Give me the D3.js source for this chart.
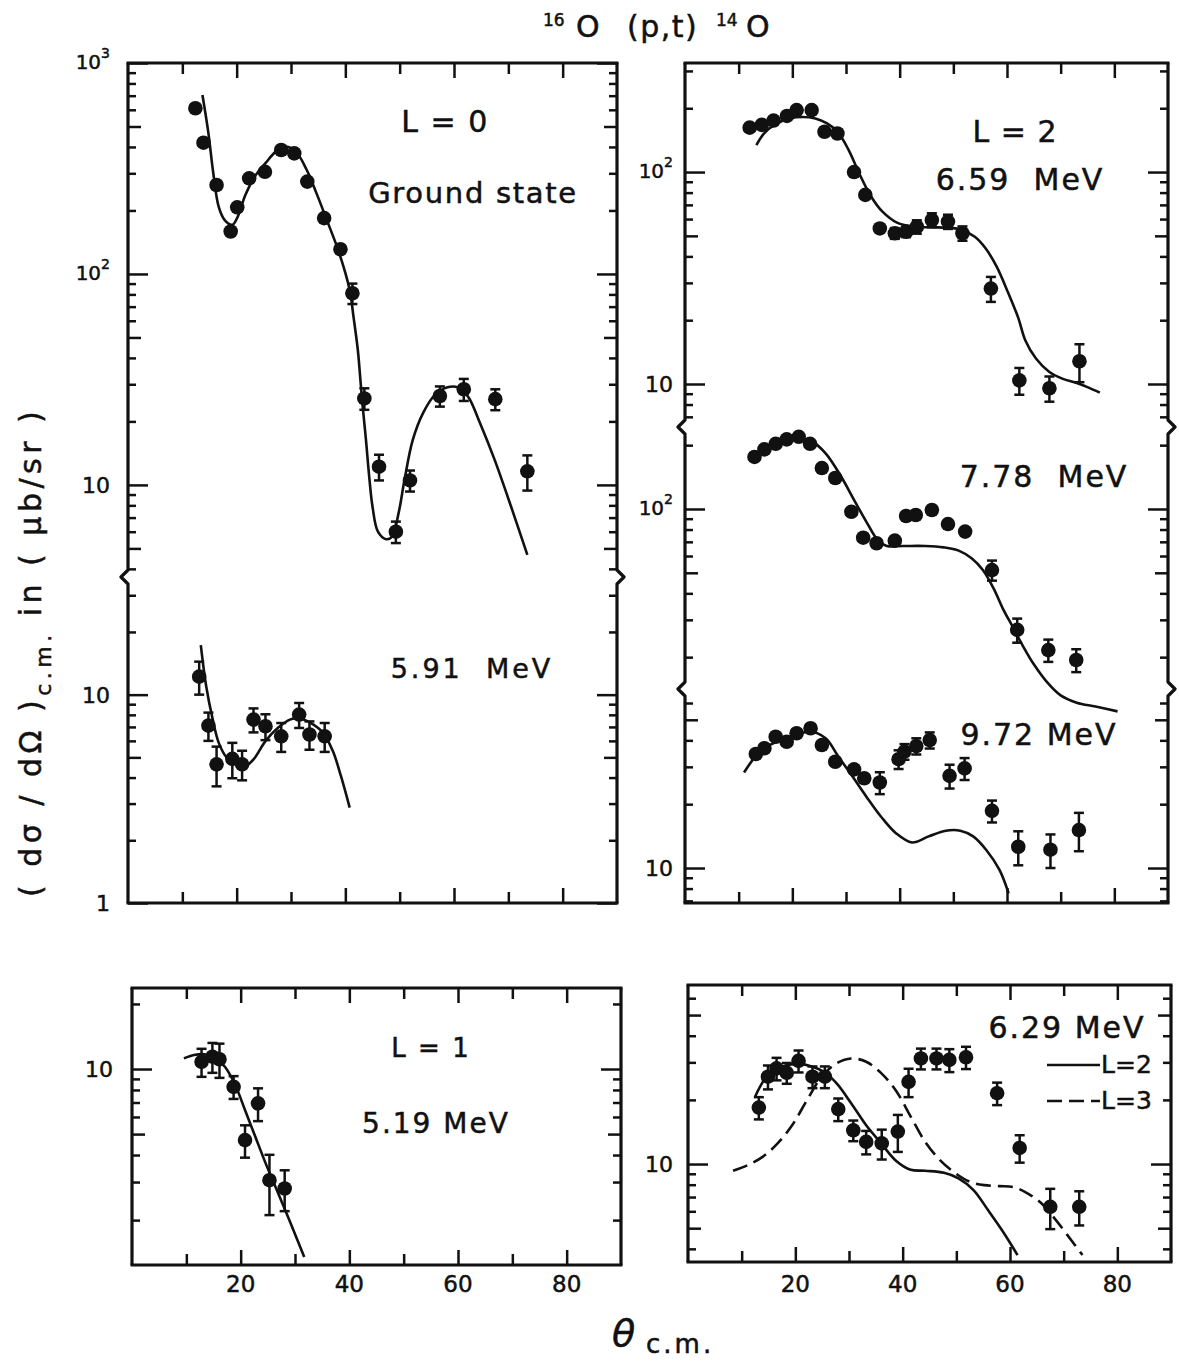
<!DOCTYPE html>
<html>
<head>
<meta charset="utf-8">
<script src="https://cdn.jsdelivr.net/npm/d3@7/dist/d3.min.js"></script>
<style>
  body { margin: 0; background: #fff; }
  svg text { font-family: "DejaVu Sans", sans-serif; fill: #111; stroke: #111; stroke-width: 0.5px; }
</style>
</head>
<body>
<svg id="chart" width="1179" height="1362"></svg>
<script>
// values: theta c.m. (deg) and d(sigma)/d(Omega) (ub/sr)

// L = 0, ground state
const gsTheta = [12.4, 13.9, 16.3, 18.9, 20.1, 22.3, 25.2, 28.2, 30.6, 33.0, 36.1, 39.1, 41.3, 43.5, 46.2, 49.3, 51.9, 57.4, 61.8, 67.6, 73.5];
const gsSigma = [610, 419, 264, 159, 207, 284, 305, 387, 373, 274, 184, 131, 81, 25.7, 12.2, 6.0, 10.5, 26.4, 28.4, 25.5, 11.6];
const gsErr   = [0, 0, 0, 0, 0, 0, 0, 0, 0, 0, 0, 0, 9, 3, 1.7, 0.7, 1.2, 2.9, 3.4, 2.9, 2.2];
const gsFitTheta = [13.7, 14.8, 15.7, 16.7, 17.8, 19.2, 20.2, 21.6, 23.5, 25.3, 27.2, 29.1, 30.9, 32.9, 34.7, 36.6, 38.9, 40.8, 41.5, 42.3, 42.8, 43.2, 43.8, 44.4, 45.0, 46.0, 47.5, 48.6, 49.8, 50.9, 52.4, 54.3, 56.5, 58.8, 60.7, 62.6, 64.8, 67.5, 70.5, 73.5];
const gsFitSigma = [705, 465, 300, 208, 180, 171, 187, 237, 294, 335, 380, 401, 380, 311, 241, 180, 125, 84, 62.8, 43.6, 30.9, 23.5, 16.3, 10.9, 7.9, 6.0, 5.53, 5.69, 7.35, 10.6, 16.3, 21.9, 26.7, 29.0, 29.0, 26.2, 19.6, 13.1, 7.9, 4.66];

// 5.91 MeV
const s591Theta = [13.1, 14.8, 16.3, 19.2, 21.0, 23.1, 25.3, 28.2, 31.5, 33.4, 36.2];
const s591Sigma = [12.2, 7.1, 4.63, 4.92, 4.63, 7.59, 7.05, 6.31, 8.02, 6.44, 6.31];
const s591Err   = [2.2, 1.1, 1.0, 0.95, 0.75, 1.0, 1.0, 1.0, 1.1, 1.0, 1.0];
const s591FitTheta = [13.4, 14.4, 15.6, 16.7, 18.2, 20.1, 21.6, 23.1, 25.3, 27.6, 29.8, 31.3, 33.6, 35.9, 37.7, 39.2, 40.8];
const s591FitSigma = [17.3, 10.95, 7.59, 5.87, 4.98, 4.63, 4.54, 4.89, 5.98, 6.93, 7.59, 7.73, 7.32, 6.56, 5.36, 4.06, 2.87];

// L = 1, 5.19 MeV
const s519Theta = [12.8, 14.8, 16.1, 18.7, 20.8, 23.2, 25.3, 28.1];
const s519Sigma = [10.8, 11.4, 11.1, 8.27, 4.69, 6.94, 3.06, 2.8];
const s519Err   = [1.6, 1.8, 2.0, 1.0, 0.8, 1.2, 0.95, 0.6];
const s519FitTheta = [9.55, 11.4, 13.3, 15.2, 17.1, 19.0, 20.8, 22.7, 24.6, 26.9, 29.1, 31.7];
const s519FitSigma = [11.2, 11.6, 11.7, 11.3, 10.25, 8.44, 6.46, 4.86, 3.66, 2.66, 1.96, 1.35];

// L = 2, 6.59 MeV
const s659Theta = [12.05, 14.3, 16.5, 19.0, 20.8, 23.6, 26.0, 28.4, 31.5, 33.6, 36.3, 39.1, 41.2, 43.2, 46.0, 49.0, 51.7, 57.0, 62.3, 67.9, 73.5];
const s659Sigma = [162, 167, 175, 184, 196, 196, 155, 152, 100, 78, 54.2, 51.4, 52.3, 55.2, 59.4, 58.4, 51.4, 28.2, 10.4, 9.55, 12.8];
const s659Err   = [0, 0, 0, 0, 0, 0, 0, 0, 0, 0, 0, 3, 3, 4, 4.5, 4.5, 4, 3.8, 1.5, 1.3, 2.6];
const s659FitTheta = [13.3, 14.7, 16.8, 19.5, 21.9, 24.3, 26.4, 28.4, 30.5, 32.6, 34.7, 36.8, 39.5, 42.9, 47.1, 51.2, 54.0, 56.0, 58.1, 60.2, 62.1, 63.4, 65.4, 67.9, 70.3, 73.0, 75.1, 77.3];
const s659FitSigma = [134, 152, 168, 179, 182, 179, 170, 155, 127, 96.8, 76.5, 65, 57.7, 55.2, 54.8, 53.7, 49.5, 43.7, 35.7, 27, 20.5, 16.1, 13.2, 11.4, 10.6, 10.1, 9.64, 9.1];

// 7.78 MeV
const s778Theta = [12.95, 14.8, 16.9, 18.95, 21.2, 23.3, 25.5, 28.0, 31.0, 33.2, 35.7, 39.1, 41.2, 43.0, 46.0, 49.0, 52.2, 57.2, 61.9, 67.7, 72.9];
const s778Sigma = [176, 191, 203, 213, 219, 203, 156, 140, 97, 73.2, 68.9, 70.9, 92.7, 93.7, 98.9, 84.9, 78.2, 51.5, 26.9, 21.6, 19.4];
const s778Err   = [0, 0, 0, 0, 0, 0, 0, 0, 0, 0, 0, 0, 0, 0, 0, 0, 0, 5.6, 3.5, 2.6, 2.4];
const s778FitTheta = [12.95, 17.1, 21.3, 23.8, 26.2, 28.9, 31.7, 33.8, 35.9, 37.6, 40.7, 44.8, 48.2, 51.0, 53.4, 55.5, 57.5, 59.2, 61.0, 63.0, 65.0, 67.5, 70.0, 73.0, 76.5, 80.6];
const s778FitSigma = [176, 200, 215, 207, 183, 145, 108, 87, 71.4, 66.9, 66.9, 66.9, 65.9, 63.6, 58.5, 51.5, 42.2, 34, 28, 22.5, 18.5, 15.2, 13.2, 12.2, 11.7, 11.1];

// 9.72 MeV
const s972Theta = [13.2, 14.8, 16.9, 18.95, 20.8, 23.4, 25.5, 28.0, 31.5, 33.4, 36.3, 39.8, 40.9, 43.1, 45.6, 49.3, 52.1, 57.2, 62.1, 68.1, 73.4];
const s972Sigma = [34.5, 36.7, 41.6, 39.4, 43.2, 45.6, 38.0, 31.7, 29.2, 26.5, 25.3, 32.6, 35.4, 37.6, 40.1, 27.2, 29.5, 18.6, 12.6, 12.2, 15.1];
const s972Err   = [0, 0, 0, 0, 0, 0, 0, 0, 0, 0, 3, 3.3, 3, 3.3, 3.5, 3.5, 3.5, 2.2, 2.3, 2.2, 3.1];
const s972FitTheta = [11.0, 13.1, 15.2, 17.9, 20.7, 23.4, 26.2, 28.6, 31.0, 33.8, 36.5, 39.3, 42.3, 45.4, 48.6, 51.3, 53.7, 56.1, 58.6, 60.3];
const s972FitSigma = [28.2, 33.5, 37.3, 40.1, 42.4, 44.0, 40.9, 33.5, 27.5, 21.7, 17.5, 14.6, 13.2, 14.1, 15.0, 15.0, 14.1, 12.2, 9.8, 7.6];

// 6.29 MeV, with L = 2 and L = 3 fits
const s629Theta = [13.2, 14.9, 16.5, 18.4, 20.6, 23.2, 25.5, 28.0, 30.8, 33.2, 36.1, 39.1, 41.1, 43.4, 46.3, 48.7, 51.8, 57.6, 61.8, 67.5, 72.9];
const s629Sigma = [18.4, 25.7, 28.1, 26.8, 30.5, 25.7, 25.7, 18.1, 14.4, 12.7, 12.5, 14.2, 24.3, 31.3, 31.3, 30.8, 31.7, 21.5, 11.9, 6.3, 6.3];
const s629Err   = [2.2, 3.3, 3.4, 3, 3.6, 3, 3, 2.2, 1.6, 1.6, 2, 2.8, 3.7, 3.5, 3.5, 3.8, 3.8, 2.6, 1.75, 1.35, 1.15];
const s629L2Theta = [12.5, 14.2, 16.0, 18.0, 20.5, 22.9, 25.3, 27.7, 30.4, 33.2, 36.0, 38.7, 41.5, 44.2, 47.7, 50.4, 53.2, 55.9, 58.7, 61.4];
const s629L2Sigma = [20.7, 24.8, 27.4, 28.9, 29.5, 28.8, 27.1, 23.9, 19.3, 15.2, 12.5, 10.4, 9.4, 9.3, 9.1, 8.57, 7.55, 6.08, 4.81, 3.74];
const s629L3Theta = [8.4, 11.2, 13.9, 16.7, 19.4, 22.2, 24.9, 27.7, 30.4, 33.2, 36.0, 38.7, 41.5, 44.2, 47.0, 49.7, 52.5, 55.2, 58.0, 60.8, 63.5, 65.9, 68.3, 70.7, 73.5];
const s629L3Sigma = [9.3, 9.9, 10.8, 12.5, 15.2, 20.0, 25.7, 29.7, 31.3, 30.2, 26.7, 22.2, 16.7, 12.7, 10.4, 9.1, 8.26, 7.96, 7.88, 7.78, 7.23, 6.53, 5.56, 4.64, 3.74];

// axis ticks and labels
const thetaDomain = [0, 90];
const thetaTicks = [10, 20, 30, 40, 50, 60, 70, 80];
const thetaLabels = [20, 40, 60, 80];

const tlTickVal  = [1000, 100, 10, 10, 1];
const tlTickSeg  = [0, 0, 0, 1, 1];
const tlTickBase = ['10', '10', '10', '10', '1'];
const tlTickSup  = ['3', '2', '', '', ''];

const trTickVal  = [100, 10, 100, 10];
const trTickSeg  = [0, 0, 1, 2];
const trTickBase = ['10', '10', '10', '10'];
const trTickSup  = ['2', '', '2', ''];

const blTickVal = [10], blTickSeg = [0], blTickBase = ['10'], blTickSup = [''];
const brTickVal = [10], brTickSeg = [0], brTickBase = ['10'], brTickSup = [''];

// ---------------- layout ----------------
const ink = '#111';
const svg = d3.select('#chart');
svg.append('rect').attr('width', 1179).attr('height', 1362).attr('fill', '#fff');

const panels = {
  tl: { left: 128, right: 617, labelGap: 18,
        segs: [{ domain: [1000, 3.62], range: [63, 578] }, { domain: [36.3, 1], range: [578, 903] }],
        ticks: [tlTickVal, tlTickSeg, tlTickBase, tlTickSup], xLabels: false },
  tr: { left: 685, right: 1168, labelGap: 12,
        segs: [{ domain: [327, 6.2], range: [63, 428] }, { domain: [241, 14.0], range: [428, 690] }, { domain: [69.1, 6.84], range: [690, 903] }],
        ticks: [trTickVal, trTickSeg, trTickBase, trTickSup], xLabels: false },
  bl: { left: 132, right: 621, labelGap: 19,
        segs: [{ domain: [23.7, 1.24], range: [988, 1265] }],
        ticks: [blTickVal, blTickSeg, blTickBase, blTickSup], xLabels: true },
  br: { left: 688, right: 1171, labelGap: 15,
        segs: [{ domain: [69.2, 3.47], range: [985, 1262] }],
        ticks: [brTickVal, brTickSeg, brTickBase, brTickSup], xLabels: true }
};

Object.values(panels).forEach(p => {
  p.x = d3.scaleLinear().domain(thetaDomain).range([p.left, p.right]);
  p.ys = p.segs.map(s => d3.scaleLog().domain(s.domain).range(s.range));
  p.top = p.segs[0].range[0];
  p.bottom = p.segs[p.segs.length - 1].range[1];
});

function mantissa(v) {
  return Math.round(v / Math.pow(10, Math.floor(Math.log10(v) + 1e-9)));
}

function drawPanel(p) {
  const g = svg.append('g');
  const breaks = p.segs.slice(1).map(s => s.range[0]);

  // frame with the axis-break notches
  g.append('line').attr('x1', p.left - 1.5).attr('x2', p.right + 1.5).attr('y1', p.top).attr('y2', p.top)
    .attr('stroke', ink).attr('stroke-width', 3.2);
  g.append('line').attr('x1', p.left - 1.5).attr('x2', p.right + 1.5).attr('y1', p.bottom).attr('y2', p.bottom)
    .attr('stroke', ink).attr('stroke-width', 3.2);
  [[p.left, -1], [p.right, 1]].forEach(([xx, dir]) => {
    const path = d3.path();
    path.moveTo(xx, p.top);
    breaks.forEach(b => {
      path.lineTo(xx, b - 8);
      path.lineTo(xx + dir * 7, b - 1);
      path.lineTo(xx, b + 6);
    });
    path.lineTo(xx, p.bottom);
    g.append('path').attr('d', path.toString()).attr('fill', 'none')
      .attr('stroke', ink).attr('stroke-width', 3.2).attr('stroke-linejoin', 'round');
  });

  // theta ticks, top and bottom
  [[15, thetaTicks.filter(t => t % 20 === 0)], [11, thetaTicks.filter(t => t % 20 !== 0)]].forEach(([len, vals]) => {
    g.append('g').attr('transform', `translate(0,${p.bottom})`)
      .call(d3.axisBottom(p.x).tickValues(vals).tickSize(-len).tickFormat(''))
      .call(a => a.select('.domain').remove());
    g.append('g').attr('transform', `translate(0,${p.top})`)
      .call(d3.axisTop(p.x).tickValues(vals).tickSize(-len).tickFormat(''))
      .call(a => a.select('.domain').remove());
  });

  // log ticks, left and right, per segment
  p.ys.forEach((y, i) => {
    const [r0, r1] = p.segs[i].range;
    const pad0 = i > 0 ? 6 : -1, pad1 = i < p.ys.length - 1 ? 6 : -1;
    const vals = y.ticks().filter(v => y(v) >= r0 + pad0 && y(v) <= r1 - pad1);
    [[20, vals.filter(v => mantissa(v) === 1)],
     [13, vals.filter(v => mantissa(v) === 5)],
     [8, vals.filter(v => mantissa(v) !== 1 && mantissa(v) !== 5)]].forEach(([len, tv]) => {
      g.append('g').attr('transform', `translate(${p.left},0)`)
        .call(d3.axisLeft(y).tickValues(tv).tickSize(-len).tickFormat(''))
        .call(a => a.select('.domain').remove());
      g.append('g').attr('transform', `translate(${p.right},0)`)
        .call(d3.axisRight(y).tickValues(tv).tickSize(-len).tickFormat(''))
        .call(a => a.select('.domain').remove());
    });
  });
  g.selectAll('.tick line').attr('stroke', ink).attr('stroke-width', 2.5);

  // y tick labels
  const [vals, segs, bases, sups] = p.ticks;
  vals.forEach((v, i) => {
    const yy = p.ys[segs[i]](v);
    const t = g.append('text').attr('x', p.left - p.labelGap).attr('y', yy).attr('dy', '0.36em')
      .attr('text-anchor', 'end');
    if (sups[i]) {
      t.append('tspan').attr('font-size', 20).text(bases[i]);
      t.append('tspan').attr('font-size', 14).attr('dy', '-0.75em').text(sups[i]);
    } else {
      t.attr('font-size', 22).text(bases[i]);
    }
  });

  // theta labels under the bottom panels
  if (p.xLabels) {
    thetaLabels.forEach(t => {
      g.append('text').attr('x', p.x(t)).attr('y', 1292).attr('text-anchor', 'middle')
        .attr('font-size', 23).text(t);
    });
  }
}

Object.values(panels).forEach(drawPanel);

// ---------------- data ----------------
const series = [
  { p: 'tl', seg: 0, theta: gsTheta, sigma: gsSigma, err: gsErr,
    fits: [{ theta: gsFitTheta, sigma: gsFitSigma }] },
  { p: 'tl', seg: 1, theta: s591Theta, sigma: s591Sigma, err: s591Err,
    fits: [{ theta: s591FitTheta, sigma: s591FitSigma }] },
  { p: 'bl', seg: 0, theta: s519Theta, sigma: s519Sigma, err: s519Err,
    fits: [{ theta: s519FitTheta, sigma: s519FitSigma }] },
  { p: 'tr', seg: 0, theta: s659Theta, sigma: s659Sigma, err: s659Err,
    fits: [{ theta: s659FitTheta, sigma: s659FitSigma }] },
  { p: 'tr', seg: 1, theta: s778Theta, sigma: s778Sigma, err: s778Err,
    fits: [{ theta: s778FitTheta, sigma: s778FitSigma }] },
  { p: 'tr', seg: 2, theta: s972Theta, sigma: s972Sigma, err: s972Err,
    fits: [{ theta: s972FitTheta, sigma: s972FitSigma }] },
  { p: 'br', seg: 0, theta: s629Theta, sigma: s629Sigma, err: s629Err,
    fits: [{ theta: s629L2Theta, sigma: s629L2Sigma },
           { theta: s629L3Theta, sigma: s629L3Sigma, dash: '15,7' }] }
];

series.forEach(s => {
  const p = panels[s.p];
  const x = p.x, y = p.ys[s.seg];
  const g = svg.append('g');

  s.fits.forEach(f => {
    const line = d3.line().x(d => x(d[0])).y(d => y(d[1])).curve(d3.curveCatmullRom.alpha(0.5));
    g.append('path').datum(d3.zip(f.theta, f.sigma)).attr('d', line)
      .attr('fill', 'none').attr('stroke', ink).attr('stroke-width', 2.6)
      .attr('stroke-dasharray', f.dash || null);
  });

  const pts = d3.range(s.theta.length).map(i => ({ t: s.theta[i], v: s.sigma[i], e: s.err[i] }));
  const eb = g.selectAll('.eb').data(pts.filter(d => d.e > 0)).join('g')
    .attr('stroke', ink).attr('stroke-width', 2.5);
  eb.append('line').attr('x1', d => x(d.t)).attr('x2', d => x(d.t))
    .attr('y1', d => y(d.v + d.e)).attr('y2', d => y(d.v - d.e));
  eb.append('line').attr('x1', d => x(d.t) - 5).attr('x2', d => x(d.t) + 5)
    .attr('y1', d => y(d.v + d.e)).attr('y2', d => y(d.v + d.e));
  eb.append('line').attr('x1', d => x(d.t) - 5).attr('x2', d => x(d.t) + 5)
    .attr('y1', d => y(d.v - d.e)).attr('y2', d => y(d.v - d.e));
  g.selectAll('circle').data(pts).join('circle')
    .attr('cx', d => x(d.t)).attr('cy', d => y(d.v)).attr('r', 7.3).attr('fill', ink);
});

// ---------------- annotations ----------------
const notes = [
  { text: 'L = 0', x: 445, y: 132, size: 30, ls: 1.5 },
  { text: 'Ground state', x: 473, y: 203, size: 29, ls: 1.7 },
  { text: '5.91  MeV', x: 472, y: 678, size: 27, ls: 3 },
  { text: 'L = 1', x: 431, y: 1057, size: 26, ls: 2 },
  { text: '5.19 MeV', x: 436, y: 1133, size: 28, ls: 2 },
  { text: 'L = 2', x: 1015, y: 142, size: 30, ls: 1 },
  { text: '6.59  MeV', x: 1020, y: 190, size: 30, ls: 2 },
  { text: '7.78  MeV', x: 1044, y: 487, size: 30, ls: 2 },
  { text: '9.72 MeV', x: 1039, y: 745, size: 30, ls: 2 },
  { text: '6.29 MeV', x: 1067, y: 1038, size: 30, ls: 2 }
];
svg.selectAll('.note').data(notes).join('text')
  .attr('x', d => d.x).attr('y', d => d.y).attr('text-anchor', 'middle')
  .attr('font-size', d => d.size).attr('letter-spacing', d => d.ls)
  .style('white-space', 'pre').text(d => d.text);

// legend of the 6.29 MeV panel
const legend = [{ label: 'L=2', y: 1065, dash: null }, { label: 'L=3', y: 1101, dash: '15,7' }];
legend.forEach(l => {
  svg.append('line').attr('x1', 1047).attr('x2', 1100).attr('y1', l.y).attr('y2', l.y)
    .attr('stroke', ink).attr('stroke-width', 2.6).attr('stroke-dasharray', l.dash);
  svg.append('text').attr('x', 1101).attr('y', l.y + 8).attr('font-size', 25).text(l.label);
});

// title
const title = svg.append('text').attr('y', 37).attr('font-size', 30);
title.append('tspan').attr('x', 543).attr('dy', -11).attr('font-size', 17).text('16');
title.append('tspan').attr('x', 576).attr('dy', 11).text('O');
title.append('tspan').attr('x', 627).attr('letter-spacing', 1.5).text('(p,t)');
title.append('tspan').attr('x', 716).attr('dy', -11).attr('font-size', 17).text('14');
title.append('tspan').attr('x', 746).attr('dy', 11).text('O');

// y axis title
const ytitle = svg.append('text').attr('transform', 'translate(41,897) rotate(-90)')
  .attr('font-size', 30).attr('letter-spacing', 4.5).style('white-space', 'pre');
ytitle.append('tspan').text('( dσ / dΩ )');
ytitle.append('tspan').attr('dy', 10).attr('font-size', 22).text('c.m.');
ytitle.append('tspan').attr('dy', -10).text(' in ( μb/sr )');

// x axis title
svg.append('text').attr('x', 612).attr('y', 1346).attr('font-size', 38).attr('font-style', 'italic').text('θ');
svg.append('text').attr('x', 646).attr('y', 1353).attr('font-size', 26).attr('letter-spacing', 3).text('c.m.');
</script>
</body>
</html>
